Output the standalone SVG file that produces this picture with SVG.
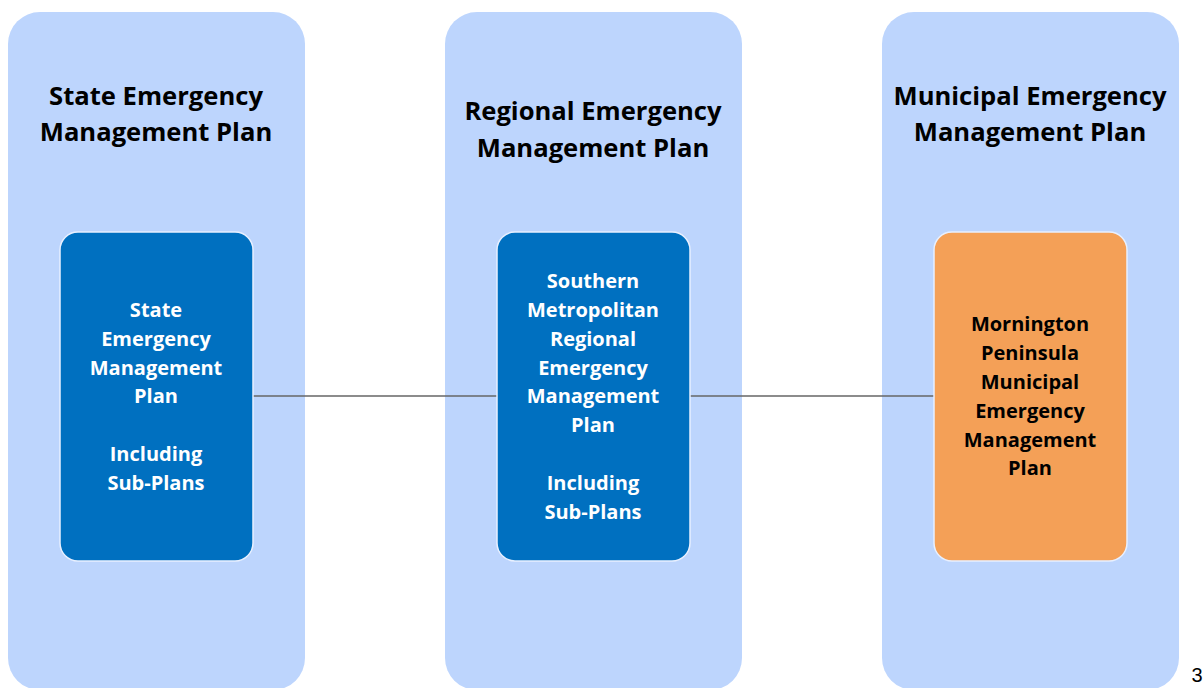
<svg xmlns="http://www.w3.org/2000/svg" width="1204" height="688" viewBox="0 0 1204 688">
<style>
.col{fill:#BDD5FD;}
.box{stroke:#E8F0FF;stroke-width:1.5;}
.blue{fill:#0070C0;}
.orange{fill:#F4A057;}
.title{font-family:"Open Sans","Liberation Sans",sans-serif;font-weight:bold;font-size:25.6px;fill:#000;text-anchor:middle;}
.wt{font-family:"Open Sans","Liberation Sans",sans-serif;font-weight:bold;font-size:20px;fill:#fff;text-anchor:middle;}
.bt{font-family:"Open Sans","Liberation Sans",sans-serif;font-weight:bold;font-size:20px;fill:#000;text-anchor:middle;}
.conn{stroke:#666;stroke-width:1.5;fill:none;}
</style>
<rect width="1204" height="688" fill="#fff"/>
<g id="col-state">
<rect class="col" x="8" y="12" width="297" height="678" rx="32"/>
<text class="title" x="156" y="105">State Emergency</text>
<text class="title" x="156" y="141">Management Plan</text>
</g>
<g id="col-regional">
<rect class="col" x="445" y="12" width="297" height="678" rx="32"/>
<text class="title" x="593" y="120">Regional Emergency</text>
<text class="title" x="593" y="157">Management Plan</text>
</g>
<g id="col-municipal">
<rect class="col" x="882" y="12" width="297" height="678" rx="32"/>
<text class="title" x="1030" y="105">Municipal Emergency</text>
<text class="title" x="1030" y="141">Management Plan</text>
</g>
<g id="connectors">
<line class="conn" x1="253" y1="396" x2="497" y2="396"/>
<line class="conn" x1="690" y1="396" x2="934" y2="396"/>
</g>
<g id="node-state">
<rect class="box blue" x="60" y="232" width="193" height="329" rx="18"/>
<text class="wt" x="156" y="317">State</text>
<text class="wt" x="156" y="346">Emergency</text>
<text class="wt" x="156" y="375">Management</text>
<text class="wt" x="156" y="403">Plan</text>
<text class="wt" x="156" y="461">Including</text>
<text class="wt" x="156" y="490">Sub-Plans</text>
</g>
<g id="node-regional">
<rect class="box blue" x="497" y="232" width="193" height="329" rx="18"/>
<text class="wt" x="593" y="288">Southern</text>
<text class="wt" x="593" y="317">Metropolitan</text>
<text class="wt" x="593" y="346">Regional</text>
<text class="wt" x="593" y="375">Emergency</text>
<text class="wt" x="593" y="403">Management</text>
<text class="wt" x="593" y="432">Plan</text>
<text class="wt" x="593" y="490">Including</text>
<text class="wt" x="593" y="519">Sub-Plans</text>
</g>
<g id="node-municipal">
<rect class="box orange" x="934" y="232" width="193" height="329" rx="18"/>
<text class="bt" x="1030" y="331">Mornington</text>
<text class="bt" x="1030" y="360">Peninsula</text>
<text class="bt" x="1030" y="389">Municipal</text>
<text class="bt" x="1030" y="418">Emergency</text>
<text class="bt" x="1030" y="447">Management</text>
<text class="bt" x="1030" y="475">Plan</text>
</g>
<text x="1197" y="682" font-family="Liberation Sans, sans-serif" font-size="20" text-anchor="middle" fill="#000">3</text>
</svg>
